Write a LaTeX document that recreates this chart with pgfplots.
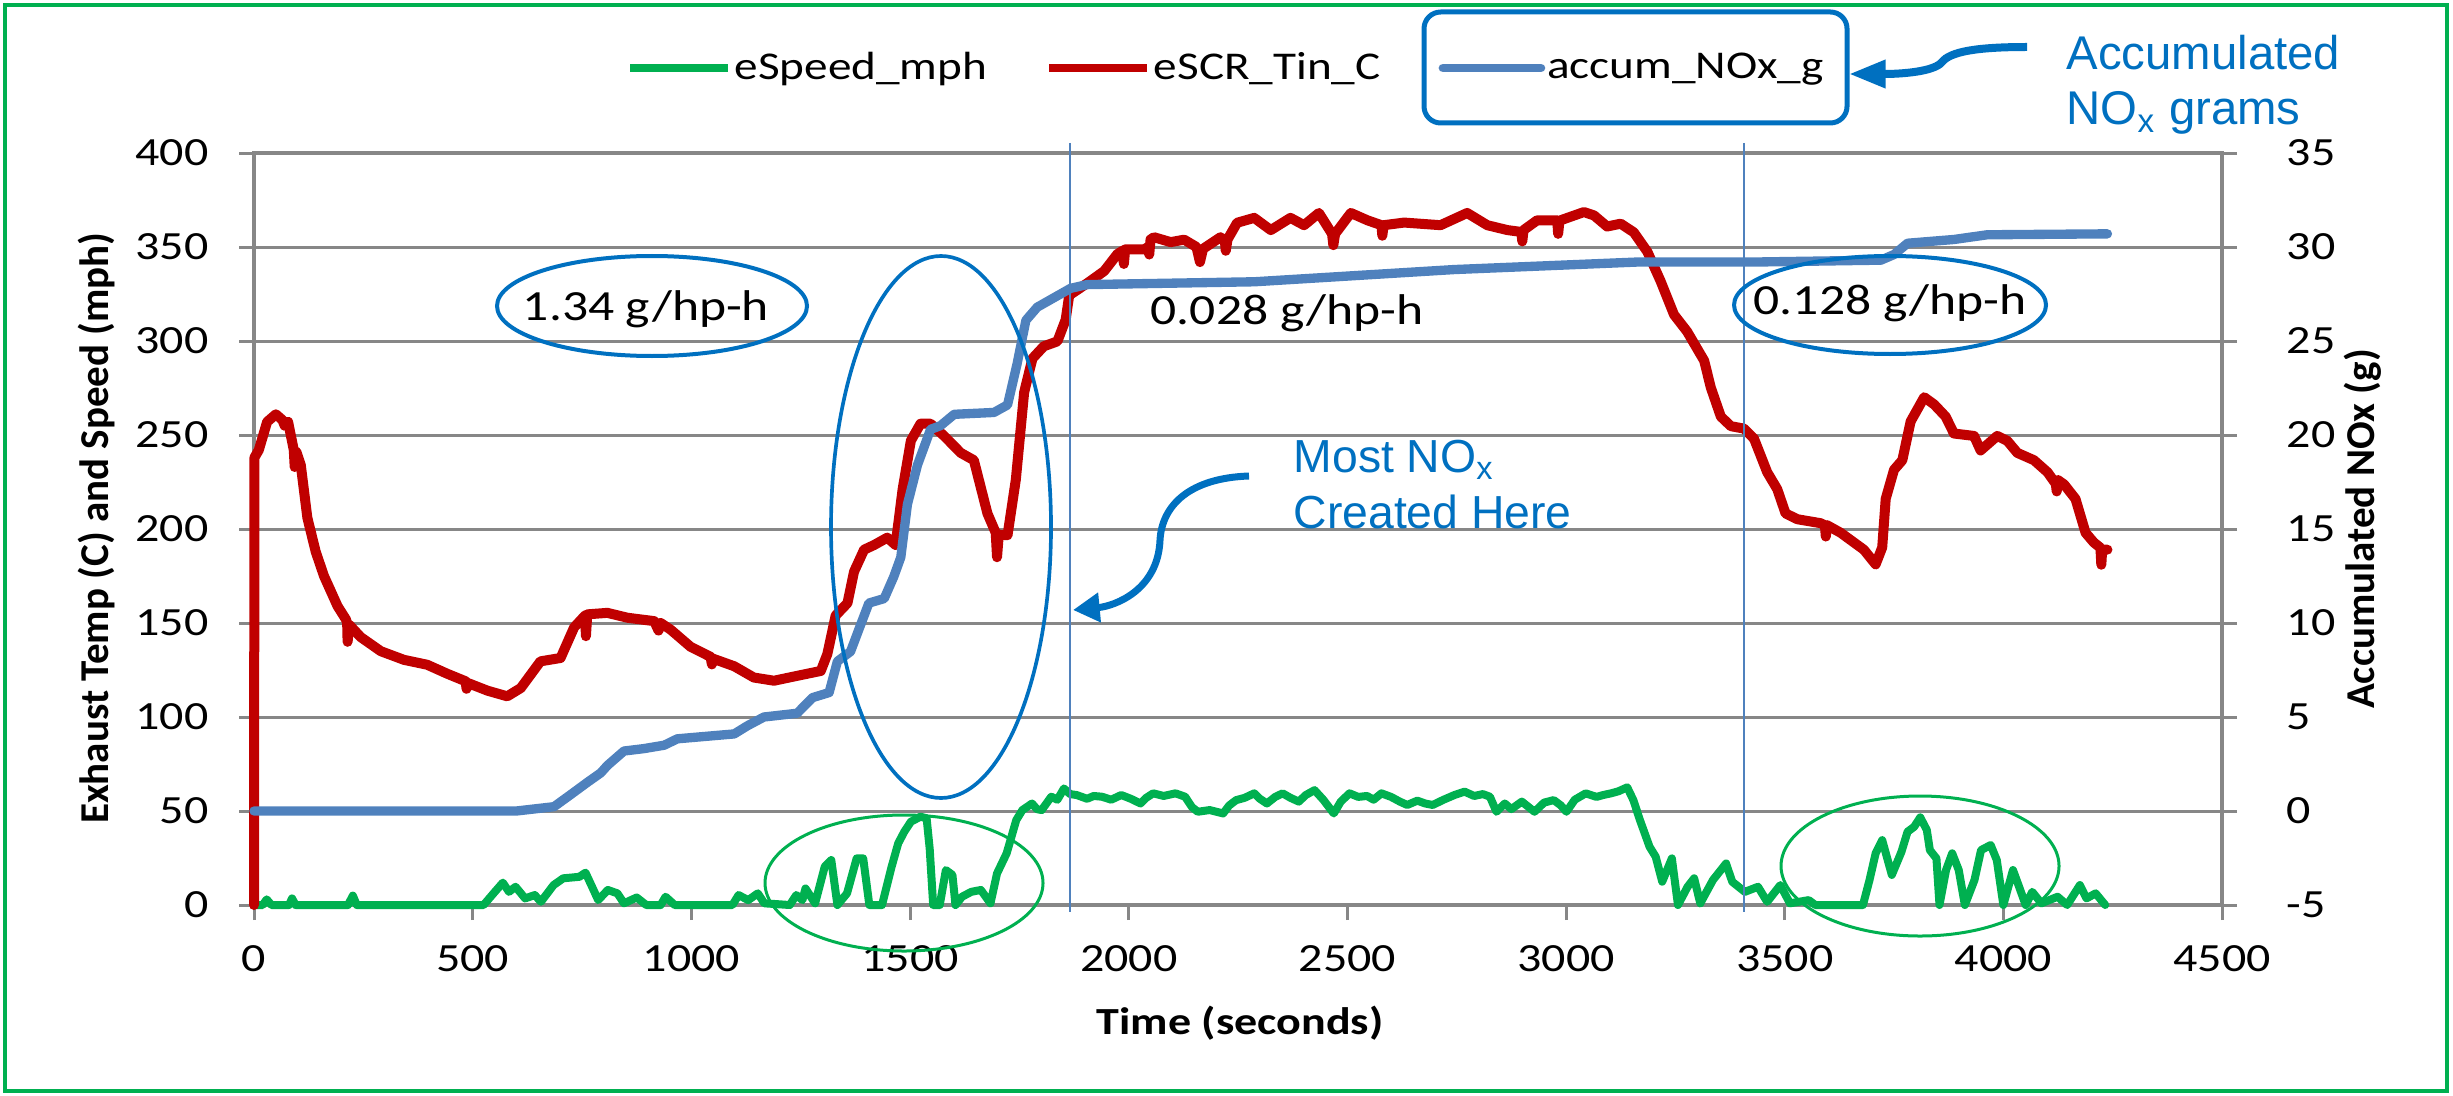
\documentclass[border=0pt]{standalone}
\usepackage{fontspec}
\setmainfont{Carlito}
\newfontfamily\calf{Carlito}[FakeStretch=1.2]
\newfontfamily\arialf{Liberation Sans}
\usepackage{pgfplots}
\usepackage{pgfplotstable}
\pgfplotsset{compat=1.18}
\usetikzlibrary{arrows.meta}
\definecolor{sgreen}{HTML}{00B050}
\definecolor{sred}{HTML}{C00000}
\definecolor{sblue}{HTML}{4F81BD}
\definecolor{ablue}{HTML}{0070C0}
\definecolor{gridgray}{HTML}{878787}

\pgfplotstableread{
t v
0 0
20 0
29 3
40 0
80 0
87 3.5
95 0
215 0
226 5
235 0
525 0
547 6
569 11.9
583 7
598 9.7
620 3.5
642 5.3
656 1.7
685 10.6
707 14.2
744 15
758 17.2
773 9.7
787 2.6
809 8
831 6.2
846 0.9
875 4
897 0
930 0
941 4.4
962 0
1094 0
1108 5.3
1130 2.6
1152 6.2
1167 0.9
1225 0
1240 5.3
1254 2.6
1261 8.8
1283 0.9
1305 20.4
1320 23.9
1334 0
1356 6.2
1378 24.8
1393 24.8
1407 0
1436 0
1458 20.4
1473 32.8
1487 39
1502 44.3
1524 47
1538 46.1
1545 30
1553 0
1568 0
1582 18.6
1597 16
1604 0
1619 4.4
1640 7
1662 8
1684 0.9
1699 16.8
1721 27.5
1743 45.2
1757 50.5
1779 54
1790 51
1801 50.5
1823 57.6
1837 56
1852 62
1866 59
1881 58.5
1905 56.5
1920 58
1939 57.6
1960 56
1983 58.5
2005 56.5
2027 54
2040 57
2056 59.4
2080 58
2107 59.4
2129 57.6
2145 52
2158 49.6
2185 50.5
2216 48.7
2230 53
2246 55.8
2265 57
2287 59.4
2300 56.5
2316 54
2335 57.5
2352 59.4
2370 57
2389 55
2405 58.5
2425 61.1
2445 56
2469 48.7
2485 55
2505 59.4
2525 57.5
2545 58
2560 56
2578 59.4
2600 57.5
2620 55
2637 53.2
2660 55.5
2678 54
2695 53.2
2720 56
2745 58.5
2768 60.3
2790 58
2810 59
2826 57.6
2841 49.6
2860 54
2875 51
2899 55
2915 52
2928 49.6
2950 54.5
2972 55.8
2988 53
3001 49.6
3020 56
3045 59.4
3070 57.5
3085 58.5
3103 59.4
3120 60.5
3140 62.6
3154 55.8
3169 45.2
3191 31
3205 25.7
3220 12.4
3242 24.8
3256 0
3278 9.7
3293 14.2
3307 0.9
3336 13.3
3366 22.1
3380 12.4
3409 7
3439 9.7
3460 1.7
3490 10.6
3512 0.9
3555 2.6
3570 0
3679 0
3694 13.3
3708 27.5
3723 34.5
3745 16
3767 28.3
3781 39
3796 41.6
3810 46.6
3825 39.9
3832 29.2
3847 24.8
3854 0
3869 18.6
3883 27.5
3898 18.6
3912 0
3934 13.3
3949 29.2
3971 31.9
3985 23.9
4000 0
4022 18.6
4036 9.7
4051 0
4066 7
4087 0.9
4124 4.4
4146 0
4175 10.6
4190 3.5
4211 6.2
4233 0
}\speedtab

\pgfplotstableread{
t v
0 0
1 238
11 242
30 257
50 261
65 258
70 255
78 257
84 250
91 242
93 233
97 241
107 234
122 206
141 188
160 175
191 159
210 152
213 150
214 140
218 149
244 142.5
290 135
343 130.4
396 127.8
442 123
484 119
486 115
490 118
534 114
579 111
610 115.4
655 129.6
701 131.4
732 147.7
757 154
759 143
762 154.6
808 155.4
854 152.8
915 151
925 146
930 150
953 146.4
998 137.4
1044 132
1047 128
1050 131
1098 127
1143 121
1189 119.3
1242 121.9
1296 124.5
1311 133.5
1330 154
1357 160.6
1372 177.3
1395 189
1418 191.5
1448 195.4
1467 191.5
1483 221
1502 247
1524 256
1547 256
1578 249.5
1616 240.5
1646 236.6
1677 208.3
1696 198
1699 185
1703 197
1723 196.7
1742 226.3
1761 272.7
1780 290.7
1806 297.2
1837 299.8
1856 311.4
1864 324.3
1905 330.7
1944 337.2
1974 346.2
1986 348
1989 341
1992 348.8
2035 348.8
2045 350
2047 346
2050 354
2058 355.2
2096 352.6
2127 353.9
2155 350
2163 342
2170 349
2210 355.2
2220 353
2222 348
2226 354
2248 362.9
2287 365.5
2325 359
2370 365.5
2401 361.6
2435 368.1
2465 357
2468 351
2472 357
2508 368.1
2546 364.2
2578 361.6
2580 356
2583 361.6
2630 363
2713 361.6
2774 368.1
2820 361.6
2866 359
2898 358
2900 353
2903 359
2934 364.2
2980 364.2
2982 357
2985 364
3041 368.6
3064 366.8
3094 360.9
3125 362.4
3155 357.8
3186 347.5
3216 332
3247 314
3277 305
3316 289.5
3331 275.3
3354 259.8
3377 254.7
3407 253.4
3430 248
3460 230.2
3483 221.2
3502 208.3
3529 205.2
3582 203.1
3592 202
3594 196
3597 202
3628 198
3681 189
3708 181.2
3723 190.2
3731 216
3750 231.5
3769 236.6
3788 257.2
3819 270.1
3842 266.2
3868 259.8
3887 250.8
3933 249.5
3948 241.8
3986 249.5
4009 246.9
4032 240.5
4070 236.6
4101 230.2
4120 224
4122 220
4125 226
4139 223.7
4165 216
4188 198
4207 192.8
4222 190
4224 181
4226 189
4238 189
}\temptab

\pgfplotstableread{
t n
0 0
600 0
686 0.23
724 0.87
762 1.52
793 2.03
808 2.42
846 3.19
892 3.32
938 3.5
968 3.84
1098 4.1
1128 4.53
1166 5.0
1242 5.2
1277 6.03
1315 6.3
1334 7.96
1364 8.48
1387 9.9
1406 11.06
1441 11.3
1463 12.47
1479 13.5
1494 16.3
1517 18.4
1547 20.3
1570 20.5
1601 21.1
1692 21.2
1723 21.6
1745 23.8
1765 26.1
1791 26.8
1829 27.3
1867 27.8
1905 28.0
2287 28.15
2744 28.8
3163 29.2
3430 29.2
3720 29.3
3750 29.6
3781 30.2
3887 30.4
3963 30.65
4238 30.7
}\noxtab

\begin{document}
\begin{tikzpicture}
\useasboundingbox (0pt,0pt) rectangle (735.9pt,-328.8pt);
\pgfplotsset{
  common/.style={
    at={(76.2pt,-271.5pt)}, anchor=south west,
    scale only axis, width=590.4pt, height=225.6pt,
    xmin=0, xmax=4500,
    scaled ticks=false,
    /pgf/number format/1000 sep={},
    /pgf/number format/assume math mode=true,
    tick label style={font=\calf\fontsize{12}{13}\selectfont},
    tick style={draw=gridgray, line width=0.9pt},
    tick align=outside, major tick length=4.5pt,
    clip=false,
  }
}
\begin{axis}[common,
  ymin=0, ymax=400,
  xtick={0,500,...,4500}, ytick={0,50,...,400},
  ymajorgrids, grid style={draw=gridgray, line width=0.9pt},
  axis line style={draw=gridgray, line width=1.1pt},
  xtick pos=bottom, ytick pos=left,
  yticklabel style={inner sep=0pt, anchor=east, xshift=-9.0pt},
  xticklabel style={inner sep=0pt, anchor=north, yshift=-7.5pt},
  xlabel={Time (seconds)},
  ylabel={Exhaust Temp (C) and Speed (mph)},
  xlabel style={font=\calf\bfseries\fontsize{11.5}{12}\selectfont, at={(axis description cs:0.501,-0.157)}, anchor=center},
  ylabel style={font=\bfseries\fontsize{12.3}{13}\selectfont, at={(axis description cs:-0.0798,0.501)}, anchor=center},
]
\addplot[sgreen, line width=2.4pt, line join=round, line cap=round] table[x=t, y=v] {\speedtab};
\addplot[sred, line width=3.0pt, line join=round, line cap=round] table[x=t, y=v] {\temptab};
\end{axis}
\begin{axis}[common,
  ymin=-5, ymax=35, ytick={-5,0,...,35},
  hide x axis,
  axis line style={draw=none},
  ytick pos=right, yticklabel pos=right,
  yticklabel style={inner sep=0pt, anchor=west, xshift=14.7pt},
  ylabel={Accumulated NOx (g)},
  ylabel style={font=\bfseries\fontsize{12.3}{13}\selectfont, at={(axis description cs:1.0717,0.5)}, anchor=center, rotate=0},
  legend style={at={(axis description cs:0.1890,1.113)}, anchor=west, draw=none, fill=none,
    inner sep=0pt, outer sep=0pt, font=\calf\fontsize{11.8}{13}\selectfont,
    nodes={inner sep=0pt},
    /tikz/every odd column/.append style={column sep=0.6pt},
    /tikz/every even column/.append style={column sep=17.4pt}},
  legend columns=3,
  legend cell align=left,
  legend image code/.code={\draw[#1, line width=2.6pt] (0pt,0pt) -- (29.4pt,0pt);},
]
\addlegendimage{sgreen}
\addlegendentry{eSpeed\_mph}
\addlegendimage{sred}
\addlegendentry{eSCR\_Tin\_C}
\addplot[sblue, line width=2.8pt, line join=round, line cap=round] table[x=t, y=n] {\noxtab};
\addlegendentry{accum\_NOx\_g}
\end{axis}
\begin{scope}[x=0.3pt, y=-0.3pt]
  \draw[sgreen, line width=1.2pt] (5,5) rectangle (2447,1091);
  \draw[sblue, line width=0.8pt] (1070,143) -- (1070,912);
  \draw[sblue, line width=0.8pt] (1744,143) -- (1744,912);
  \draw[ablue, line width=1.2pt] (652,306) ellipse [x radius=46.5pt, y radius=15pt];
  \draw[ablue, line width=1.1pt] (941,527) ellipse [x radius=33pt, y radius=81.3pt];
  \draw[ablue, line width=1.2pt] (1890,305) ellipse [x radius=46.8pt, y radius=14.7pt];
  \draw[sgreen, line width=0.9pt] (904,883) ellipse [x radius=41.7pt, y radius=20.4pt];
  \draw[sgreen, line width=0.9pt] (1920,866) ellipse [x radius=41.7pt, y radius=21pt];
  \draw[ablue, line width=1.5pt, rounded corners=5pt] (1424,12) rectangle (1847,123);
  \draw[ablue, line width=2.1pt, -{Triangle[length=8pt, width=8.5pt]}] (1249,476) .. controls (1190,478) and (1162,505) .. (1160,540) .. controls (1158,590) and (1115,606) .. (1073,610);
  \draw[ablue, line width=2.4pt, -{Triangle[length=11pt, width=8pt]}] (2027,47) .. controls (1975,47) and (1950,52) .. (1942,62) .. controls (1934,72) and (1900,74) .. (1849,74);
  \node[anchor=base, inner sep=0pt, font=\calf\fontsize{12.9}{14}\selectfont] at (646,320) {1.34 g/hp-h};
  \node[anchor=base, inner sep=0pt, font=\calf\fontsize{12.9}{14}\selectfont] at (1287,324) {0.028 g/hp-h};
  \node[anchor=base, inner sep=0pt, font=\calf\fontsize{12.9}{14}\selectfont] at (1890,314) {0.128 g/hp-h};
  \node[anchor=base west, inner sep=0pt, text=ablue, font=\arialf\fontsize{13.9}{15}\selectfont] at (1293,472) {Most NO\textsubscript{x}};
  \node[anchor=base west, inner sep=0pt, text=ablue, font=\arialf\fontsize{13.9}{15}\selectfont] at (1293,528) {Created Here};
  \node[anchor=base west, inner sep=0pt, text=ablue, font=\arialf\fontsize{14.2}{15}\selectfont] at (2066,70) {Accumulated};
  \node[anchor=base west, inner sep=0pt, text=ablue, font=\arialf\fontsize{14.2}{15}\selectfont] at (2066,125) {NO\textsubscript{x} grams};
\end{scope}
\end{tikzpicture}
\end{document}
